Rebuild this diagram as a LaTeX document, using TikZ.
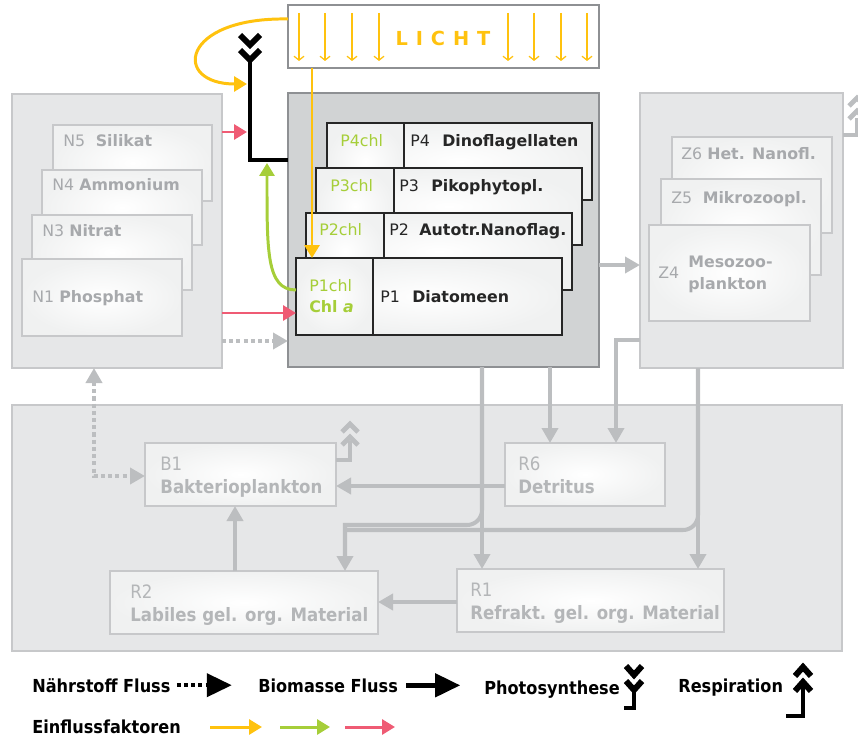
\documentclass[tikz,border=0pt]{standalone}
\usepackage{fontspec}
\setmainfont{DejaVu Sans}
\newfontfamily\condfont{DejaVu Sans Condensed}
\usetikzlibrary{arrows.meta,positioning,fit,calc}

\definecolor{grpfill}{HTML}{E6E7E8}
\definecolor{grpline}{HTML}{C7C8CA}
\definecolor{pfill}{HTML}{D1D3D4}
\definecolor{pline}{HTML}{8E9093}
\definecolor{txtgray}{HTML}{A7A9AC}
\definecolor{flowgray}{HTML}{BCBEC0}
\definecolor{boxlight}{HTML}{F0F1F1}
\definecolor{lichtgelb}{HTML}{FFC20E}
\definecolor{chlgruen}{HTML}{A6CE39}
\definecolor{naehrrot}{HTML}{EF5B74}

\tikzset{
  grp/.style={draw=grpline, fill=grpfill, line width=1.2pt, inner sep=0pt, outer sep=0pt},
  pgrp/.style={grp, draw=pline, fill=pfill},
  lichtbox/.style={grp, draw=pline, fill=white},
  sbox/.style={draw=grpline, line width=1.2pt, inner sep=0pt, outer sep=0pt, inner color=white, outer color=boxlight},
  pbox/.style={sbox, draw=black!85},
  ntxt/.style={anchor=base west, inner sep=0pt, align=left, text=txtgray, font=\fontsize{9}{12}\selectfont},
  ptxt/.style={ntxt, text=black!85},
  chltxt/.style={ntxt, text=chlgruen},
  btxt/.style={anchor=base west, inner sep=0pt, align=left, text=txtgray!85, font=\condfont\fontsize{10.5}{12.8}\selectfont},
  lgd/.style={anchor=base west, inner sep=0pt, font=\condfont\bfseries\fontsize{10.2}{12}\selectfont},
  gflow/.style={draw=flowgray, line width=2.3pt, -{Triangle[length=0.3cm,width=0.32cm]}},
  nflow/.style={gflow, dash pattern=on 2.3pt off 1.8pt},
  einfluss/.style={line width=1.7pt, -{Triangle[length=0.26cm,width=0.3cm]}},
  chev/.style={line width=3.4pt, miter limit=10},
  gresp/.style={draw=flowgray, line width=1.8pt},
  gchev/.style={draw=flowgray, line width=2.8pt, miter limit=10},
}

\begin{document}
\begin{tikzpicture}[x=0.02cm,y=-0.02cm]
\useasboundingbox (0,0) rectangle (858,740);

% Gruppen
\node[grp, fit={(12,94) (222,368)}] (ngrp) {};
\node[grp, fit={(640,93) (843,368)}] (zgrp) {};
\node[grp, fit={(12,405) (842,651)}] (bgrp) {};
\node[pgrp, fit={(288,93) (599,367)}] (pgrp) {};
\node[lichtbox, fit={(288,5) (599,68)}] (licht) {};

% Licht
\foreach \x in {299,325,352,379,508,534,561,587}
  \draw[lichtgelb, line width=0.7pt, -{Straight Barb[length=0.08cm,width=0.2cm]}] (\x,13) -- (\x,61);
\node[text=lichtgelb, font=\bfseries\fontsize{11}{13}\selectfont] (licht-t) at (443,38)
  {L\hspace{4.5pt}I\hspace{4.5pt}C\hspace{4.5pt}H\hspace{4.5pt}T};

% Naehrstoffe
\node[sbox, fit={(53,125) (212,201)}] (n5) {};
\node[sbox, fit={(42,170) (202,245)}] (n4) {};
\node[sbox, fit={(32,215) (192,290)}] (n3) {};
\node[sbox, fit={(22,259) (182,336)}] (n1) {};
\node[ntxt] (n5-t) at (63,146) {N5\hspace{6pt}\textbf{Silikat}};
\node[ntxt] (n4-t) at (52,190) {N4 \textbf{Ammonium}};
\node[ntxt] (n3-t) at (42,236) {N3 \textbf{Nitrat}};
\node[ntxt] (n1-t) at (32,302) {N1 \textbf{Phosphat}};

% Phytoplankton
\node[pbox, fit={(327,123) (592,200)}] (p4) {};
\node[pbox, fit={(327,123) (404,200)}] (p4chl) {};
\node[ptxt] (p4-t) at (410,146) {P4\hspace{7pt}\textbf{Dinoflagellaten}};
\node[chltxt] (p4chl-t) at (340,146) {P4chl};
\node[pbox, fit={(316,168) (582,245)}] (p3) {};
\node[pbox, fit={(316,168) (394,245)}] (p3chl) {};
\node[ptxt] (p3-t) at (399,191) {P3\hspace{7pt}\textbf{Pikophytopl.}};
\node[chltxt] (p3chl-t) at (330,191) {P3chl};
\node[pbox, fit={(306,213) (572,290)}] (p2) {};
\node[pbox, fit={(306,213) (384,290)}] (p2chl) {};
\node[ptxt] (p2-t) at (389,235) {P2\hspace{6pt}\textbf{Autotr.Nanoflag.}};
\node[chltxt] (p2chl-t) at (319,235) {P2chl};
\node[pbox, fit={(296,258) (562,335)}] (p1) {};
\node[pbox, fit={(296,258) (373,335)}] (p1chl) {};
\node[ptxt] (p1-t) at (380,302) {P1\hspace{7pt}\textbf{Diatomeen}};
\node[chltxt] (p1chl-t) at (309,291) {P1chl};
\node[chltxt] (chla-t) at (309,312) {\textbf{Chl \textit{a}}};

% Zooplankton
\node[sbox, fit={(672,137) (832,233)}] (z6) {};
\node[sbox, fit={(661,179) (821,275)}] (z5) {};
\node[sbox, fit={(649,225) (810,321)}] (z4) {};
\node[ntxt] (z6-t) at (681,159) {Z6 \textbf{Het. Nanofl.}};
\node[ntxt] (z5-t) at (671,203) {Z5\hspace{6pt}\textbf{Mikrozoopl.}};
\node[ntxt] (z4-t) at (658,278) {Z4};
\node[ntxt] (z4-n) at (688,289) {\textbf{Mesozoo-}\\\textbf{plankton}};

% Bakterien und Detritus
\node[sbox, fit={(145,443) (336,506)}] (b1) {};
\node[sbox, fit={(505,443) (665,506)}] (r6) {};
\node[sbox, fit={(110,571) (378,634)}] (r2) {};
\node[sbox, fit={(457,569) (724,632)}] (r1) {};
\node[btxt] (b1-t) at (160,493) {B1\\\textbf{Bakterioplankton}};
\node[btxt] (r6-t) at (518,493) {R6\\\textbf{Detritus}};
\node[btxt] (r2-t) at (130,621) {R2\\\textbf{Labiles gel. org. Material}};
\node[btxt] (r1-t) at (470,619) {R1\\\textbf{Refrakt. gel. org. Material}};

% Photosynthese
\coordinate (ps-top) at (250,62);
\coordinate (ps-knick) at (250,160);
\foreach \y in {45,60} \draw[chev] (240,\y-10) -- (250,\y) -- (260,\y-10);
\draw[line width=2.5pt] (ps-top) -- (ps-knick) -- (pgrp.west |- ps-knick);

% Einflussfaktoren
\draw[lichtgelb, einfluss] (licht.west |- 0,19) .. controls (180,17) and (172,84) .. (247,84);
\draw[lichtgelb, einfluss] (licht.south -| 312,0) -- (p1chl.north -| 312,0);
\draw[chlgruen, einfluss] (p1chl.west |- 0,290) .. controls (266,290) and (267,250) .. (267,163);
\draw[naehrrot, einfluss] (ngrp.east |- 0,132) -- (247,132);
\draw[naehrrot, einfluss] (ngrp.east |- 0,313) -- (p1chl.west |- 0,313);

% Fluesse
\draw[nflow] (ngrp.east |- 0,341) -- (pgrp.west |- 0,341);
\draw[gflow] (pgrp.east |- 0,265) -- (zgrp.west |- 0,265);
\draw[gflow] (pgrp.south -| 550,0) -- (r6.north -| 550,0);
\draw[gflow] (zgrp.west |- 0,340) -- (616,340) -- (r6.north -| 616,0);
\draw[gflow] (pgrp.south -| 482,0) -- (r1.north -| 482,0);
\draw[gflow] (zgrp.south -| 698,0) -- (r1.north -| 698,0);
\draw[gflow, -] (zgrp.south -| 698,0) [rounded corners=0.3cm] -- (698,530) [sharp corners] -- (345,530);
\draw[gflow] (pgrp.south -| 482,0) [rounded corners=0.3cm] -- (482,525) [sharp corners] -- (345,525) -- (r2.north -| 345,0);
\draw[gflow] (r6.west |- 0,486) -- (b1.east |- 0,486);
\draw[gflow] (r2.north -| 235,0) -- (b1.south -| 235,0);
\draw[gflow] (r1.west |- 0,602) -- (r2.east |- 0,602);
\draw[nflow, {Triangle[length=0.3cm,width=0.32cm]}-{Triangle[length=0.3cm,width=0.32cm]}]
  (ngrp.south -| 94,0) -- (94,476) -- (b1.west |- 0,476);

% Respiration
\draw[gresp] (b1.east |- 0,460) -- (350,460) -- (350,441);
\foreach \y in {424,437} \draw[gchev] (342,\y+8) -- (350,\y) -- (358,\y+8);
\draw[gresp] (zgrp.east |- 0,135) -- (857,135) -- (857,118);
\foreach \y in {98,111} \draw[gchev] (849,\y+8) -- (857,\y) -- (865,\y+8);

% Legende
\node[lgd] (lg-n) at (32,692) {Nährstoff Fluss};
\draw[line width=2.3pt, dash pattern=on 2.3pt off 1.8pt, -{Triangle[length=0.5cm,width=0.46cm]}]
  ($(lg-n.east)+(6,0)$) -- ++(55,0);
\node[lgd] (lg-b) at (258,692) {Biomasse Fluss};
\draw[line width=2.5pt, -{Triangle[length=0.5cm,width=0.46cm]}] ($(lg-b.east)+(8,0)$) -- ++(54,0);
\node[lgd] (lg-p) at (484,694) {Photosynthese};
\foreach \y in {675,690} \draw[chev] (626,\y-9) -- (634,\y) -- (642,\y-9);
\draw[line width=2.4pt] (634,690) -- (634,708) -- (624,708);
\node[lgd] (lg-r) at (678,692) {Respiration};
\foreach \y in {667,682} \draw[chev] (795,\y+9) -- (803,\y) -- (811,\y+9);
\draw[line width=2.4pt] (803,684) -- (803,716) -- (786,716);
\node[lgd] (lg-e) at (32,733) {Einflussfaktoren};
\draw[lichtgelb, einfluss] (210,727) -- (262,727);
\draw[chlgruen, einfluss] (280,727) -- (330,727);
\draw[naehrrot, einfluss] (345,727) -- (395,727);
\end{tikzpicture}
\end{document}
